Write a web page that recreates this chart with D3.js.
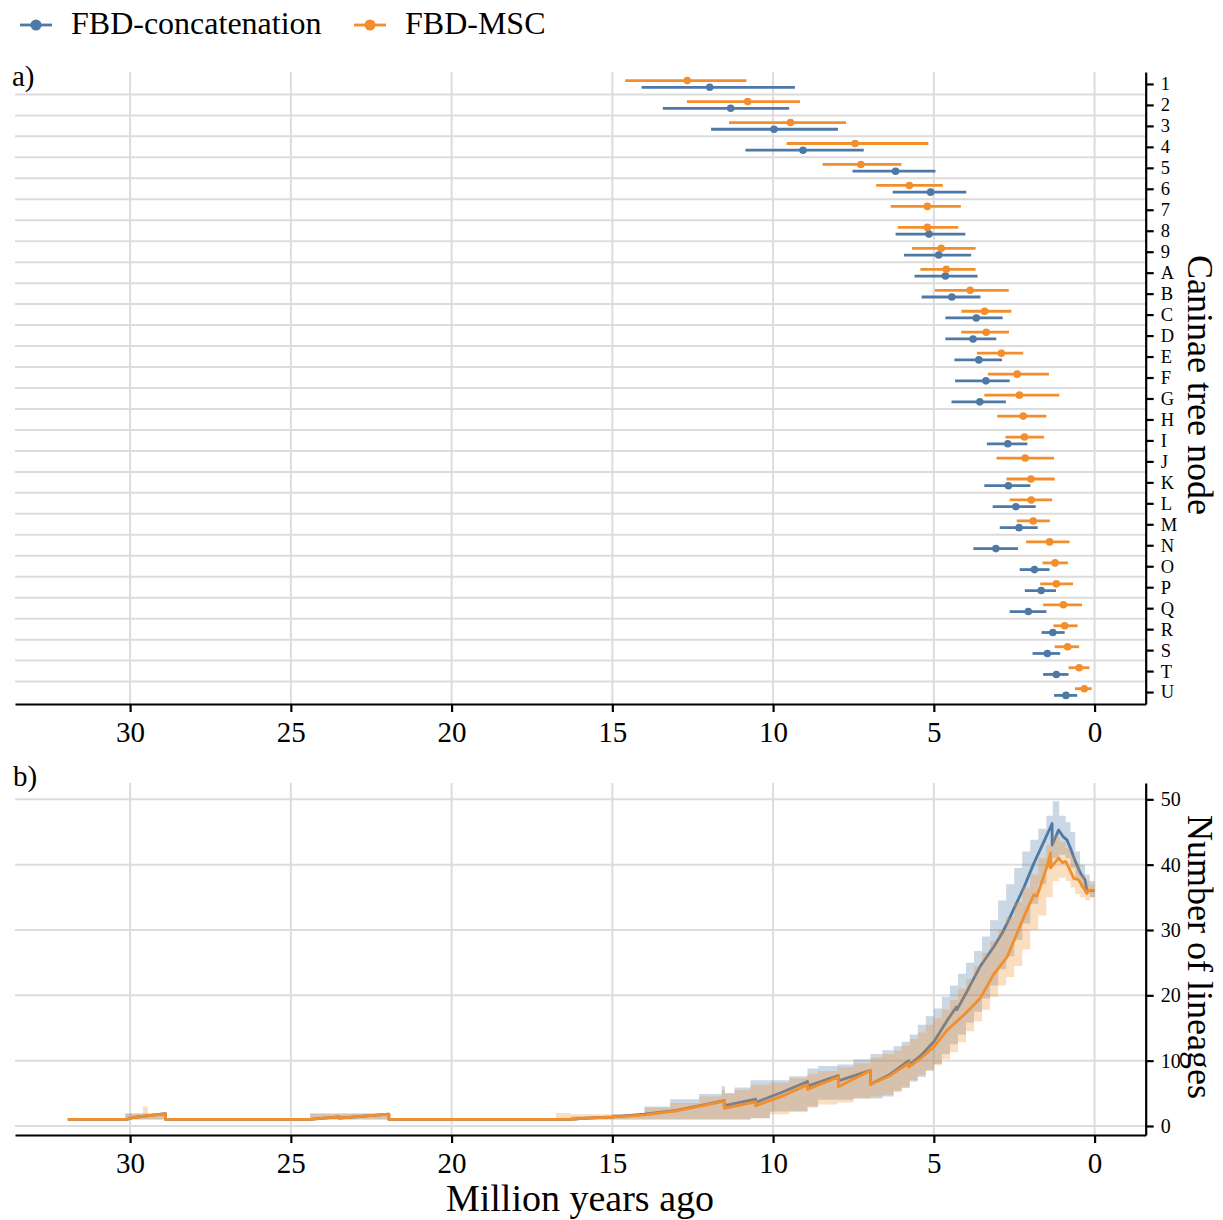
<!DOCTYPE html>
<html>
<head>
<meta charset="utf-8">
<script src="https://cdn.jsdelivr.net/npm/d3@7/dist/d3.min.js"></script>
<style>
  html, body { margin: 0; padding: 0; background: #fff; }
  svg text { font-family: "Liberation Serif", "DejaVu Serif", serif; fill: #000; }
</style>
</head>
<body>
<svg id="fig" width="1223" height="1220"></svg>
<script>
// ---------- Panel a: node ages (mean and 95% HPD, million years ago) ----------
const nodeLabels = ["1","2","3","4","5","6","7","8","9","A","B","C","D","E","F","G","H","I","J","K","L","M","N","O","P","Q","R","S","T","U"];

const concatMean = [11.97, 11.32, 9.97, 9.07, 6.19, 5.10, null, 5.15, 4.85, 4.64, 4.44, 3.68, 3.78, 3.60, 3.38, 3.57, null, 2.70, null, 2.68, 2.45, 2.35, 3.07, 1.87, 1.66, 2.06, 1.30, 1.47, 1.19, 0.89];
const concatLow  = [9.32, 9.50, 7.98, 7.18, 4.95, 3.99, null, 4.02, 3.84, 3.64, 3.55, 2.86, 3.06, 2.88, 2.64, 2.76, null, 2.09, null, 2.00, 1.83, 1.77, 2.38, 1.40, 1.20, 1.50, 0.93, 1.07, 0.81, 0.54];
const concatHigh = [14.09, 13.43, 11.93, 10.86, 7.53, 6.28, null, 6.19, 5.93, 5.60, 5.38, 4.64, 4.64, 4.36, 4.34, 4.45, null, 3.35, null, 3.43, 3.17, 2.95, 3.77, 2.33, 2.17, 2.64, 1.65, 1.93, 1.60, 1.26];

const mscMean = [12.67, 10.79, 9.46, 7.45, 7.27, 5.76, 5.20, 5.20, 4.77, 4.61, 3.87, 3.42, 3.37, 2.90, 2.41, 2.34, 2.22, 2.18, 2.16, 1.98, 1.97, 1.91, 1.40, 1.23, 1.19, 0.97, 0.93, 0.84, 0.48, 0.32];
const mscLow  = [10.83, 9.16, 7.73, 5.17, 6.01, 4.72, 4.16, 4.24, 3.70, 3.70, 2.67, 2.59, 2.66, 2.22, 1.42, 1.10, 1.50, 1.57, 1.26, 1.24, 1.32, 1.39, 0.78, 0.83, 0.67, 0.39, 0.53, 0.48, 0.16, 0.09];
const mscHigh = [14.60, 12.68, 11.37, 9.58, 8.46, 6.79, 6.34, 6.12, 5.68, 5.42, 4.97, 4.14, 4.15, 3.66, 3.32, 3.43, 3.03, 2.77, 3.05, 2.74, 2.64, 2.42, 2.13, 1.62, 1.69, 1.60, 1.28, 1.24, 0.81, 0.61];

// ---------- Panel b: lineages through time ----------
// median curves as [time, lineages]
const concatLtt = [[31.94,1],[30.1,1],[29.9,1.3],[28.9,1.9],[28.9,1],
  [24.4,1],[23.5,1.4],[23.5,1.2],[21.95,1.8],[21.95,1],
  [16.3,1],[15.9,1.15],[15.0,1.4],[14.0,1.8],[13.0,2.4],[12.2,3.2],[11.52,3.9],[11.52,3.1],
  [10.54,4.1],[10.54,3.6],[9.7,5.2],[8.93,6.8],[8.93,6.1],[7.97,7.7],[7.97,6.9],[6.97,8.5],[6.97,6.4],
  [6.4,7.8],[5.78,10.0],[5.78,9.3],[5.4,10.8],[5.0,12.9],[4.58,16.2],[4.3,18.2],[4.28,17.8],[4.0,20.3],
  [3.55,24.5],[3.14,27.4],[2.9,29.3],[2.72,31.0],[2.41,34.3],[2.2,36.5],[1.89,40.2],[1.58,43.5],
  [1.32,46.3],[1.32,43.0],[1.12,45.3],[0.98,44.3],[0.86,43.8],[0.75,42.5],[0.6,40.5],[0.44,38.7],
  [0.3,37.7],[0.24,36.1],[0.0,36.0]];

const mscLtt = [[31.94,1],[30.1,1],[29.9,1.3],[28.9,1.9],[28.9,1],
  [24.4,1],[23.5,1.4],[23.5,1.2],[21.95,1.8],[21.95,1],
  [16.3,1],[15.9,1.15],[15.0,1.35],[14.0,1.7],[13.0,2.3],[12.2,3.1],[11.52,3.8],[11.52,2.7],
  [10.54,3.7],[10.54,3.1],[9.7,4.6],[8.93,6.3],[8.93,5.6],[7.97,7.5],[7.97,6.0],[6.97,8.5],[6.97,6.4],
  [6.4,7.6],[5.78,9.6],[5.78,9.0],[5.4,10.4],[5.0,12.1],[4.58,14.7],[4.0,17.3],[3.55,19.6],[3.14,23.2],
  [2.72,25.9],[2.41,29.5],[2.2,32.0],[1.89,35.4],[1.79,35.2],[1.48,39.7],[1.37,41.8],[1.37,39.5],
  [1.12,41.0],[1.0,40.3],[0.9,40.5],[0.75,39.0],[0.65,37.9],[0.5,37.7],[0.4,36.9],[0.24,35.6],
  [0.2,36.1],[0.0,36.1]];

// 95% interval of the lineage counts, shared time grid
const bandT = [32.0, 30.15, 29.6, 29.45, 28.9, 24.4, 23.5, 21.95, 16.75, 16.3, 15.0, 14.0, 13.2, 12.3, 11.6, 11.5, 11.2, 10.7, 10.1, 9.5, 8.93, 8.6, 8.0, 7.5, 6.97, 6.6, 6.25, 6.0, 5.75, 5.5, 5.25, 5.0, 4.75, 4.5, 4.25, 4.0, 3.75, 3.5, 3.25, 3.0, 2.75, 2.5, 2.25, 2.0, 1.75, 1.5, 1.3, 1.1, 0.9, 0.75, 0.6, 0.45, 0.3, 0.15, 0.0];
const concatBandHigh = [1, 1.9, 1.9, 1.9, 1, 1.9, 1.9, 1, 1, 1.5, 1.8, 3.0, 4.1, 4.9, 6.1, 5.0, 5.9, 7.0, 7.0, 7.6, 8.8, 9.2, 9.4, 10.2, 11.0, 11.6, 12.2, 12.9, 14.0, 15.5, 16.8, 18.0, 19.8, 21.5, 23.3, 25.0, 26.8, 29.0, 31.5, 34.5, 37.0, 39.5, 42.0, 43.8, 45.5, 47.5, 49.7, 47.5, 46.5, 45.0, 42.0, 40.0, 38.5, 37.5, 37.0];
const concatBandLow  = [1, 1, 1, 1, 1, 1, 1, 1, 1, 1, 1, 1, 1, 1, 1, 1, 1, 1.2, 2.2, 2.2, 3.0, 4.0, 4.0, 4.2, 4.2, 4.5, 5.4, 5.8, 6.8, 7.5, 8.5, 9.5, 11.0, 12.5, 14.0, 15.8, 17.5, 19.5, 21.5, 24.0, 26.0, 28.5, 31.0, 34.0, 37.0, 39.5, 41.0, 41.5, 41.0, 39.5, 38.0, 36.5, 35.5, 35.0, 35.0];
const mscBandHigh = [1, 1.9, 3.0, 1.9, 1, 1.9, 1.9, 1, 2.0, 1.8, 1.8, 2.8, 3.5, 4.5, 5.5, 5.0, 5.5, 6.3, 6.6, 7.3, 8.0, 8.4, 9.0, 9.6, 10.5, 11.0, 11.5, 12.3, 13.3, 14.3, 15.5, 16.5, 17.8, 19.3, 21.0, 22.5, 24.5, 26.5, 28.3, 30.0, 32.0, 34.3, 36.5, 38.5, 41.0, 43.0, 44.5, 43.5, 42.5, 41.5, 40.0, 38.5, 37.5, 37.0, 36.5];
const mscBandLow  = [1, 1, 1, 1, 1, 1, 1, 1, 1, 1, 1, 1, 1, 1, 1, 1, 1, 1.2, 1.8, 2.2, 2.8, 3.3, 3.6, 4.2, 4.5, 4.8, 5.2, 6.0, 7.0, 7.8, 8.5, 9.3, 10.2, 11.3, 12.8, 14.5, 16.0, 17.8, 19.8, 21.5, 22.8, 24.5, 27.0, 30.0, 32.2, 35.0, 37.5, 38.0, 37.5, 36.5, 35.5, 35.0, 34.5, 35.0, 35.5];

const timeTicks = [0, 5, 10, 15, 20, 25, 30];
const lineageTicks = [0, 10, 20, 30, 40, 50];

// ---------- styling ----------
const BLUE = "#4e79a7", ORANGE = "#f28e2b", GRID = "#dcdcdc";
const svg = d3.select("#fig");

const left = 15, right = 1145.7;
const timeDomain = [33.58, -1.59];

// ---------- panel a ----------
const xA = d3.scaleLinear().domain(timeDomain).range([left, right]);
const yA = d3.scaleLinear().domain([-0.57, 29.57]).range([72, 704]);

const gA = svg.append("g");
gA.append("g").selectAll("line").data(timeTicks).join("line")
  .attr("x1", d => xA(d)).attr("x2", d => xA(d))
  .attr("y1", yA.range()[0]).attr("y2", yA.range()[1])
  .attr("stroke", GRID).attr("stroke-width", 2);
gA.append("g").selectAll("line").data(d3.range(29).map(i => i + 0.5)).join("line")
  .attr("x1", left).attr("x2", right)
  .attr("y1", d => yA(d)).attr("y2", d => yA(d))
  .attr("stroke", GRID).attr("stroke-width", 2);

function errorSeries(mean, low, high, color, offset) {
  const rows = d3.range(mean.length).filter(i => mean[i] !== null);
  const g = gA.append("g");
  g.selectAll("line").data(rows).join("line")
    .attr("x1", i => xA(high[i])).attr("x2", i => xA(low[i]))
    .attr("y1", i => yA(i + offset)).attr("y2", i => yA(i + offset))
    .attr("stroke", color).attr("stroke-width", 2.8);
  g.selectAll("circle").data(rows).join("circle")
    .attr("cx", i => xA(mean[i])).attr("cy", i => yA(i + offset))
    .attr("r", 3.8).attr("fill", color);
}
errorSeries(concatMean, concatLow, concatHigh, BLUE, 0.16);
errorSeries(mscMean, mscLow, mscHigh, ORANGE, -0.16);

function styleAxis(g, fontSize) {
  g.select(".domain").attr("stroke", "#000").attr("stroke-width", 2.2);
  g.selectAll(".tick line").attr("stroke", "#000").attr("stroke-width", 2.2);
  g.selectAll(".tick text").attr("font-size", fontSize)
    .attr("font-family", "Liberation Serif, DejaVu Serif, serif").attr("fill", "#000");
}

const axA_x = gA.append("g").attr("transform", `translate(0,${yA.range()[1]})`)
  .call(d3.axisBottom(xA).tickValues(timeTicks).tickSize(8).tickSizeOuter(0).tickPadding(9));
styleAxis(axA_x, 29);
const axA_y = gA.append("g").attr("transform", `translate(${right},0)`)
  .call(d3.axisRight(yA).tickValues(d3.range(30)).tickFormat(i => nodeLabels[i])
    .tickSize(8).tickSizeOuter(0).tickPadding(7));
styleAxis(axA_y, 18.5);

svg.append("text").attr("x", 12).attr("y", 86).attr("font-size", 29).text("a)");
svg.append("text").attr("transform", "translate(1188,385) rotate(90)")
  .attr("text-anchor", "middle").attr("font-size", 36).text("Caninae tree node");

// ---------- panel b ----------
const xB = d3.scaleLinear().domain(timeDomain).range([left, right]);
const yB = d3.scaleLinear().domain([-1.38, 52.5]).range([1135, 783]);

const gB = svg.append("g");
gB.append("g").selectAll("line").data(timeTicks).join("line")
  .attr("x1", d => xB(d)).attr("x2", d => xB(d))
  .attr("y1", yB.range()[1]).attr("y2", yB.range()[0])
  .attr("stroke", GRID).attr("stroke-width", 2);
gB.append("g").selectAll("line").data(lineageTicks).join("line")
  .attr("x1", left).attr("x2", right)
  .attr("y1", d => yB(d)).attr("y2", d => yB(d))
  .attr("stroke", GRID).attr("stroke-width", 2);

function band(low, high) {
  return d3.area()
    .x((d, i) => xB(bandT[i]))
    .y0((d, i) => yB(low[i]))
    .y1((d, i) => yB(high[i]))
    .curve(d3.curveStepAfter)(bandT);
}
const ltt = d3.line().x(d => xB(d[0])).y(d => yB(d[1]));

gB.append("path").attr("d", band(concatBandLow, concatBandHigh))
  .attr("fill", BLUE).attr("fill-opacity", 0.3);
gB.append("path").attr("d", ltt(concatLtt))
  .attr("fill", "none").attr("stroke", BLUE).attr("stroke-width", 2.8).attr("stroke-linejoin", "round");
gB.append("path").attr("d", band(mscBandLow, mscBandHigh))
  .attr("fill", ORANGE).attr("fill-opacity", 0.3);
gB.append("path").attr("d", ltt(mscLtt))
  .attr("fill", "none").attr("stroke", ORANGE).attr("stroke-width", 2.8).attr("stroke-linejoin", "round");

const axB_x = gB.append("g").attr("transform", `translate(0,${yB.range()[0]})`)
  .call(d3.axisBottom(xB).tickValues(timeTicks).tickSize(8).tickSizeOuter(0).tickPadding(9));
styleAxis(axB_x, 29);
const axB_y = gB.append("g").attr("transform", `translate(${right},0)`)
  .call(d3.axisRight(yB).tickValues(lineageTicks).tickSize(8).tickSizeOuter(0).tickPadding(7));
styleAxis(axB_y, 20);

svg.append("text").attr("x", 13).attr("y", 786).attr("font-size", 29).text("b)");
svg.append("text").attr("transform", "translate(1188,957) rotate(90)")
  .attr("text-anchor", "middle").attr("font-size", 36).text("Number of lineages");
svg.append("text").attr("x", 580).attr("y", 1211)
  .attr("text-anchor", "middle").attr("font-size", 38).text("Million years ago");

// ---------- legend ----------
const legendItems = [
  { label: "FBD-concatenation", color: BLUE, x: 20, tx: 71 },
  { label: "FBD-MSC", color: ORANGE, x: 354, tx: 405 }
];
const lg = svg.append("g").selectAll("g").data(legendItems).join("g");
lg.append("line").attr("x1", d => d.x).attr("x2", d => d.x + 32)
  .attr("y1", 25).attr("y2", 25).attr("stroke", d => d.color).attr("stroke-width", 2.8);
lg.append("circle").attr("cx", d => d.x + 16).attr("cy", 25).attr("r", 5.5).attr("fill", d => d.color);
lg.append("text").attr("x", d => d.tx).attr("y", 34).attr("font-size", 32).text(d => d.label);
</script>
</body>
</html>
